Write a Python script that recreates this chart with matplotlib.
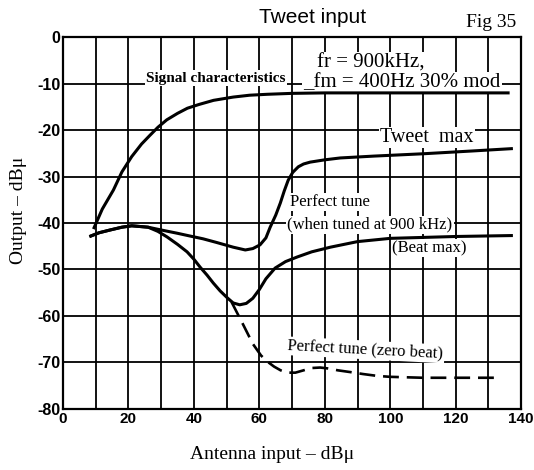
import matplotlib.pyplot as plt
import numpy as np

# ==================================================
# Data
# ==================================================
sig_x = [9.5, 12, 15.4, 18, 21, 24, 26.6, 29, 31.7, 35, 38, 41.5, 46, 52, 57, 62.4, 70, 80, 100, 120, 136]
sig_y = [-41, -37, -32.9, -29, -25.7, -23, -21.1, -19.4, -17.8, -16.4, -15.3, -14.5, -13.6, -12.9, -12.5, -12.3, -12.1, -12, -12, -12, -12]

tweet_x = [8.5, 11, 14.4, 18, 21, 26, 30, 34.9, 38.8, 42.8, 47, 52, 55.7, 58, 60.2, 62, 63.3, 65, 66.4, 67.6, 68.8, 70.2,
           71.9, 73.5, 75.5, 80, 84.7, 95, 110, 125, 137]
tweet_y = [-42.8, -42.1, -41.5, -40.9, -40.6, -40.9, -41.5, -42.2, -42.8, -43.4, -44.2, -45.2, -45.8, -45.5, -44.7, -43.2, -40.9,
           -38.3, -35.7, -33.1, -30.8, -29.1, -27.9, -27.3, -26.9, -26.4, -26, -25.6, -25.1, -24.5, -24]

beat_x = [8.5, 11, 14.4, 18, 21, 26, 29, 31.8, 35, 37.9, 40, 41.9, 44, 45.9, 48, 50.2, 52, 54, 56, 58, 60, 62, 64.8, 68,
          71.6, 76, 81.7, 90, 100, 120, 137]
beat_y = [-42.8, -42.1, -41.5, -40.9, -40.6, -40.9, -41.8, -43, -44.6, -46.2, -47.8, -49.5, -51.2, -52.9, -54.6, -56.1, -57.2,
          -57.6, -57.3, -56.2, -54.3, -52, -49.7, -48.3, -47.3, -46.2, -45.2, -44, -43.3, -42.9, -42.7]

zero_x = [51.5, 55, 58, 60.5, 62.4, 64.5, 66.5, 68.5, 71, 73.5, 76, 78.6, 81, 84, 88, 91.7, 96, 100, 110, 120, 133]
zero_y = [-57, -61.8, -66, -68.5, -69.8, -70.9, -71.7, -72.2, -72.2, -71.7, -71.2, -71.1, -71.3, -71.7, -72.1, -72.5, -72.9,
          -73.1, -73.3, -73.3, -73.3]

x_ticks = [0, 20, 40, 60, 80, 100, 120, 140]
y_ticks = [0, -10, -20, -30, -40, -50, -60, -70, -80]

serif = ["Liberation Serif", "DejaVu Serif"]
sans = ["Liberation Sans", "DejaVu Sans"]

fig = plt.figure(figsize=(5.34, 4.70), dpi=100)
ax = fig.add_axes([0.118, 0.130, 0.858, 0.791])
ax.set_xlim(0, 140)
ax.set_ylim(-80, 0)

# grid every 10 units, labels only every 20 on x
ax.set_xticks(np.arange(0, 141, 10))
ax.set_yticks(y_ticks)
ax.grid(True, color="black", lw=1.3)
ax.set_xticklabels([str(v) if v in x_ticks else "" for v in range(0, 141, 10)],
                   family=sans, fontweight="bold", fontsize=11)
ax.set_yticklabels([str(v) for v in y_ticks], family=sans, fontweight="bold", fontsize=11.5)
ax.tick_params(length=0, pad=2)
for s in ax.spines.values():
    s.set_linewidth(1.6)

# curves (above the text boxes, which only mask the grid)
ax.plot(sig_x, sig_y, color="black", lw=2.2, zorder=5)
ax.plot(tweet_x, tweet_y, color="black", lw=2.2, zorder=5)
ax.plot(beat_x, beat_y, color="black", lw=2.2, zorder=5)
ax.plot(zero_x, zero_y, color="black", lw=1.9, dashes=(6, 3), zorder=5)

# annotations
box = dict(facecolor="white", edgecolor="none", pad=1)
kw = dict(family=serif, va="center", bbox=box, zorder=4)
ax.text(25.5, -8.8, "Signal characteristics", fontweight="bold", fontsize=11, **kw)
ax.text(77.5, -5.6, "fr = 900kHz,", fontsize=15, **kw)
ax.text(73.5, -9.8, "_fm = 400Hz 30% mod", fontsize=15, **kw)
ax.text(97, -21.6, "Tweet  max", fontsize=14.5, **kw)
ax.text(69.5, -35.5, "Perfect tune", fontsize=12, **kw)
ax.text(68.5, -40.4, "(when tuned at 900 kHz)", fontsize=12, **kw)
ax.text(100.5, -45.4, "(Beat max)", fontsize=12, **kw)
ax.text(68.5, -67.3, "Perfect tune (zero beat)", fontsize=12, rotation=-3, **kw)

fig.text(0.586, 0.962, "Tweet input", family=sans, fontsize=15, ha="center", va="center")
fig.text(0.920, 0.953, "Fig 35", family=serif, fontsize=14, ha="center", va="center")
fig.text(0.510, 0.032, "Antenna input – dBμ", family=serif, fontsize=14, ha="center", va="center")
fig.text(0.034, 0.552, "Output – dBμ", family=serif, fontsize=14, ha="center", va="center",
         rotation=90)

plt.savefig("out.png", dpi=100)
plt.close()
